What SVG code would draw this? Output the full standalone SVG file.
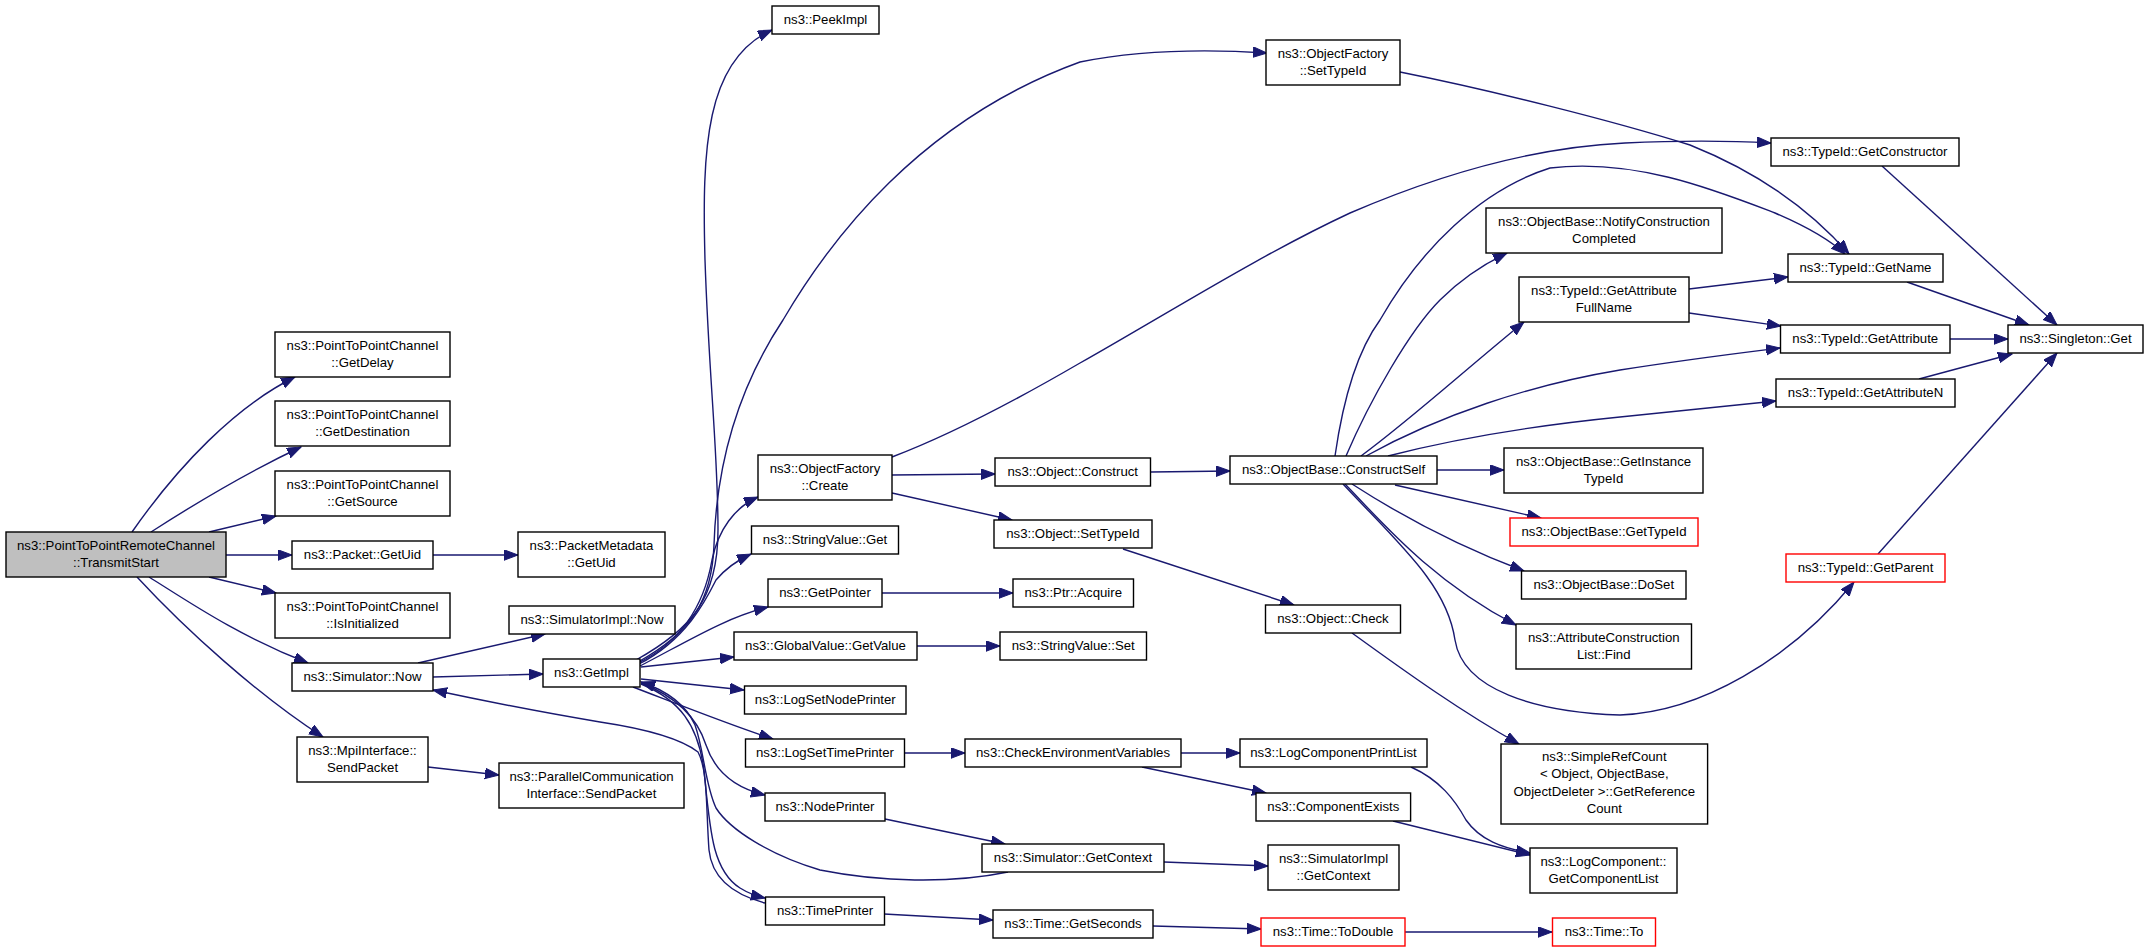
<svg xmlns="http://www.w3.org/2000/svg" width="2149" height="952" viewBox="0 0 2149 952">
<style>
.n rect{fill:#ffffff;stroke:#000000;stroke-width:1.4}
.n.main rect{fill:#bfbfbf}
.n.red rect{stroke:#ff0000}
.n text{font-family:"Liberation Sans",Arial,Helvetica,sans-serif;font-size:13.2px;text-anchor:middle;fill:#000000}
.e path{fill:none;stroke:#191970;stroke-width:1.4;marker-end:url(#ah)}
</style>
<defs>
<marker id="ah" markerUnits="userSpaceOnUse" viewBox="0 0 15 12" markerWidth="15" markerHeight="12" refX="14" refY="5.25" orient="auto">
<path d="M0,0 L14,5.25 L0,10.5 z" fill="#191970" stroke="#191970" stroke-width="1"/>
</marker>
</defs>
<rect x="0" y="0" width="2149" height="952" fill="#ffffff"/>
<g id="edges" class="e">
<path d="M132,532 C178,466 236,406 295,377"/>
<path d="M151,532 C196,503 248,472 301,447"/>
<path d="M209,532 L276,516"/>
<path d="M226,555 L292,555"/>
<path d="M209,577 L276,593"/>
<path d="M149,577 C186,600 238,636 308,663"/>
<path d="M137,577 C186,630 258,695 323,737"/>
<path d="M433,555 L518,555"/>
<path d="M418,663 L545,634"/>
<path d="M433,677 L543,674"/>
<path d="M428,767 L499,775"/>
<path d="M636,660 C690,630 718,600 718,530 C718,450 709,380 705,260 C702,150 705,60 772,30"/>
<path d="M638,662 C692,632 712,600 714,545 C716,480 730,400 783,320 C830,240 920,120 1080,62 C1150,48 1220,50 1267,53"/>
<path d="M638,663 C685,640 705,600 712,560 C718,530 735,507 758,497"/>
<path d="M639,664 C686,640 706,600 716,580 C726,568 738,560 751,554"/>
<path d="M640,666 C690,640 725,618 768,607"/>
<path d="M641,667 L734,657"/>
<path d="M641,679 L744,690"/>
<path d="M633,687 C680,705 730,725 773,739"/>
<path d="M641,683 C680,698 698,720 706,745 C715,772 735,788 765,795"/>
<path d="M641,684 C680,700 698,725 704,770 C710,830 712,870 740,888 C748,893 756,896 765,898"/>
<path d="M765,903 C735,895 712,880 709,850 C706,810 708,770 698,752 C680,738 640,728 600,722 C540,712 480,700 433,690"/>
<path d="M1008,872 C950,884 880,882 820,870 C770,855 730,830 716,808 C705,785 704,750 695,725 C685,703 665,690 641,682"/>
<path d="M892,457 C950,435 1025,395 1080,363 C1170,312 1260,255 1350,213 C1450,170 1540,147 1625,143 C1690,140 1735,141 1771,143"/>
<path d="M1400,72 C1490,90 1610,120 1690,145 C1765,175 1815,215 1849,254"/>
<path d="M1335,456 C1343,400 1358,350 1380,320 C1420,250 1480,190 1550,168 C1635,158 1715,190 1775,213 C1810,228 1830,240 1845,254"/>
<path d="M1346,456 C1370,400 1410,330 1440,300 C1460,280 1482,265 1507,253"/>
<path d="M1361,456 C1410,420 1465,370 1524,322"/>
<path d="M1366,456 C1440,415 1530,385 1620,370 C1690,359 1740,353 1780,348"/>
<path d="M1388,456 C1450,440 1530,426 1620,417 C1690,410 1740,405 1776,401"/>
<path d="M1437,470 L1504,470"/>
<path d="M1395,485 L1541,518"/>
<path d="M1352,484 C1400,515 1455,545 1524,571"/>
<path d="M1345,484 C1380,520 1430,580 1516,625"/>
<path d="M1343,484 C1400,545 1447,585 1455,640 C1463,690 1535,712 1620,715 C1700,712 1790,660 1854,582"/>
<path d="M1878,554 L2057,353"/>
<path d="M1950,339 L2008,339"/>
<path d="M1919,379 L2012,354"/>
<path d="M1907,282 L2029,325"/>
<path d="M1882,166 L2057,325"/>
<path d="M1689,289 L1788,277"/>
<path d="M1689,313 L1781,326"/>
<path d="M1151,472 L1230,471"/>
<path d="M892,475 L995,474"/>
<path d="M892,493 L1012,520"/>
<path d="M1123,549 L1294,605"/>
<path d="M1352,633 C1410,675 1462,712 1519,744"/>
<path d="M882,593 L1013,593"/>
<path d="M917,646 L1000,646"/>
<path d="M904,753 L965,753"/>
<path d="M1181,753 L1240,753"/>
<path d="M1142,767 L1266,793"/>
<path d="M1411,767 C1440,780 1455,800 1466,820 C1480,840 1502,848 1530,853"/>
<path d="M1393,821 L1530,855"/>
<path d="M885,819 L1005,844"/>
<path d="M1164,862 L1268,866"/>
<path d="M884,914 L993,920"/>
<path d="M1153,926 L1261,929"/>
<path d="M1405,932 L1552,932"/>
</g>
<g id="n_main" class="n main"><rect x="6" y="532" width="220" height="45"/><text x="116" y="550">ns3::PointToPointRemoteChannel</text><text x="116" y="567.3">::TransmitStart</text></g>
<g id="n_getdelay" class="n"><rect x="275" y="332" width="175" height="45"/><text x="362.5" y="350">ns3::PointToPointChannel</text><text x="362.5" y="367.3">::GetDelay</text></g>
<g id="n_getdestination" class="n"><rect x="275" y="401" width="175" height="45"/><text x="362.5" y="419">ns3::PointToPointChannel</text><text x="362.5" y="436.3">::GetDestination</text></g>
<g id="n_getsource" class="n"><rect x="275" y="471" width="175" height="45"/><text x="362.5" y="489">ns3::PointToPointChannel</text><text x="362.5" y="506.3">::GetSource</text></g>
<g id="n_packet_getuid" class="n"><rect x="292" y="541" width="141" height="28"/><text x="362.5" y="559.3">ns3::Packet::GetUid</text></g>
<g id="n_isinitialized" class="n"><rect x="275" y="593" width="175" height="45"/><text x="362.5" y="611">ns3::PointToPointChannel</text><text x="362.5" y="628.3">::IsInitialized</text></g>
<g id="n_sim_now" class="n"><rect x="292" y="663" width="141" height="28"/><text x="362.5" y="681.3">ns3::Simulator::Now</text></g>
<g id="n_mpi" class="n"><rect x="297" y="737" width="131" height="45"/><text x="362.5" y="755">ns3::MpiInterface::</text><text x="362.5" y="772.3">SendPacket</text></g>
<g id="n_pktmeta" class="n"><rect x="518" y="532" width="147" height="45"/><text x="591.5" y="550">ns3::PacketMetadata</text><text x="591.5" y="567.3">::GetUid</text></g>
<g id="n_simimpl_now" class="n"><rect x="509" y="606" width="166" height="28"/><text x="592" y="624.3">ns3::SimulatorImpl::Now</text></g>
<g id="n_parallel" class="n"><rect x="499" y="763" width="185" height="45"/><text x="591.5" y="781">ns3::ParallelCommunication</text><text x="591.5" y="798.3">Interface::SendPacket</text></g>
<g id="n_getimpl" class="n"><rect x="543" y="659" width="97" height="28"/><text x="591.5" y="677.3">ns3::GetImpl</text></g>
<g id="n_peekimpl" class="n"><rect x="772" y="6" width="107" height="28"/><text x="825.5" y="24.3">ns3::PeekImpl</text></g>
<g id="n_of_create" class="n"><rect x="758" y="455" width="134" height="45"/><text x="825" y="473">ns3::ObjectFactory</text><text x="825" y="490.3">::Create</text></g>
<g id="n_sv_get" class="n"><rect x="751.5" y="526" width="147" height="28"/><text x="825" y="544.3">ns3::StringValue::Get</text></g>
<g id="n_getpointer" class="n"><rect x="768" y="579" width="114" height="28"/><text x="825" y="597.3">ns3::GetPointer</text></g>
<g id="n_gv_getvalue" class="n"><rect x="734" y="632" width="183" height="28"/><text x="825.5" y="650.3">ns3::GlobalValue::GetValue</text></g>
<g id="n_logsetnode" class="n"><rect x="744.5" y="686" width="161.5" height="28"/><text x="825.25" y="704.3">ns3::LogSetNodePrinter</text></g>
<g id="n_logsettime" class="n"><rect x="745.5" y="739" width="159" height="28"/><text x="825" y="757.3">ns3::LogSetTimePrinter</text></g>
<g id="n_nodeprinter" class="n"><rect x="765" y="793" width="120" height="28"/><text x="825" y="811.3">ns3::NodePrinter</text></g>
<g id="n_timeprinter" class="n"><rect x="765.5" y="897" width="119" height="28"/><text x="825" y="915.3">ns3::TimePrinter</text></g>
<g id="n_of_settypeid" class="n"><rect x="1266" y="40" width="134" height="45"/><text x="1333" y="58">ns3::ObjectFactory</text><text x="1333" y="75.3">::SetTypeId</text></g>
<g id="n_obj_construct" class="n"><rect x="995" y="458" width="155.5" height="28"/><text x="1072.75" y="476.3">ns3::Object::Construct</text></g>
<g id="n_obj_settypeid" class="n"><rect x="994" y="520" width="158" height="28"/><text x="1073" y="538.3">ns3::Object::SetTypeId</text></g>
<g id="n_ptr_acquire" class="n"><rect x="1013" y="579" width="120.5" height="28"/><text x="1073.25" y="597.3">ns3::Ptr::Acquire</text></g>
<g id="n_sv_set" class="n"><rect x="1000" y="632" width="146.5" height="28"/><text x="1073.25" y="650.3">ns3::StringValue::Set</text></g>
<g id="n_checkenv" class="n"><rect x="965" y="739" width="216" height="28"/><text x="1073" y="757.3">ns3::CheckEnvironmentVariables</text></g>
<g id="n_sim_getcontext" class="n"><rect x="982" y="844" width="182" height="28"/><text x="1073" y="862.3">ns3::Simulator::GetContext</text></g>
<g id="n_time_getseconds" class="n"><rect x="993" y="910" width="160" height="28"/><text x="1073" y="928.3">ns3::Time::GetSeconds</text></g>
<g id="n_constructself" class="n"><rect x="1230" y="456" width="207" height="28"/><text x="1333.5" y="474.3">ns3::ObjectBase::ConstructSelf</text></g>
<g id="n_obj_check" class="n"><rect x="1265.5" y="605" width="135" height="28"/><text x="1333" y="623.3">ns3::Object::Check</text></g>
<g id="n_logcompprint" class="n"><rect x="1240" y="739" width="187" height="28"/><text x="1333.5" y="757.3">ns3::LogComponentPrintList</text></g>
<g id="n_compexists" class="n"><rect x="1256" y="793" width="154.6" height="28"/><text x="1333.3" y="811.3">ns3::ComponentExists</text></g>
<g id="n_simimpl_getcontext" class="n"><rect x="1268" y="845" width="131" height="45"/><text x="1333.5" y="863">ns3::SimulatorImpl</text><text x="1333.5" y="880.3">::GetContext</text></g>
<g id="n_time_todouble" class="n red"><rect x="1261" y="918" width="144" height="28"/><text x="1333" y="936.3">ns3::Time::ToDouble</text></g>
<g id="n_notify" class="n"><rect x="1486" y="208" width="236" height="45"/><text x="1604" y="226">ns3::ObjectBase::NotifyConstruction</text><text x="1604" y="243.3">Completed</text></g>
<g id="n_gafn" class="n"><rect x="1519" y="277" width="170" height="45"/><text x="1604" y="295">ns3::TypeId::GetAttribute</text><text x="1604" y="312.3">FullName</text></g>
<g id="n_getinstancetypeid" class="n"><rect x="1504" y="448" width="199" height="45"/><text x="1603.5" y="466">ns3::ObjectBase::GetInstance</text><text x="1603.5" y="483.3">TypeId</text></g>
<g id="n_ob_gettypeid" class="n red"><rect x="1510" y="518" width="188" height="28"/><text x="1604" y="536.3">ns3::ObjectBase::GetTypeId</text></g>
<g id="n_doset" class="n"><rect x="1521.5" y="571" width="164.5" height="28"/><text x="1603.75" y="589.3">ns3::ObjectBase::DoSet</text></g>
<g id="n_find" class="n"><rect x="1516" y="624" width="175.5" height="45"/><text x="1603.75" y="642">ns3::AttributeConstruction</text><text x="1603.75" y="659.3">List::Find</text></g>
<g id="n_simplerefcount" class="n"><rect x="1501" y="744" width="206.6" height="80"/><text x="1604.3" y="761">ns3::SimpleRefCount</text><text x="1604.3" y="778.3">&lt; Object, ObjectBase,</text><text x="1604.3" y="795.6">ObjectDeleter &gt;::GetReference</text><text x="1604.3" y="812.9">Count</text></g>
<g id="n_getcomplist" class="n"><rect x="1530" y="848" width="147" height="45"/><text x="1603.5" y="866">ns3::LogComponent::</text><text x="1603.5" y="883.3">GetComponentList</text></g>
<g id="n_time_to" class="n red"><rect x="1552.5" y="918" width="103" height="28"/><text x="1604" y="936.3">ns3::Time::To</text></g>
<g id="n_getconstructor" class="n"><rect x="1771" y="138" width="188" height="28"/><text x="1865" y="156.3">ns3::TypeId::GetConstructor</text></g>
<g id="n_getname" class="n"><rect x="1788" y="254" width="155" height="28"/><text x="1865.5" y="272.3">ns3::TypeId::GetName</text></g>
<g id="n_getattribute" class="n"><rect x="1780.5" y="325" width="169.5" height="28"/><text x="1865.25" y="343.3">ns3::TypeId::GetAttribute</text></g>
<g id="n_singleton" class="n"><rect x="2008" y="325" width="135" height="28"/><text x="2075.5" y="343.3">ns3::Singleton::Get</text></g>
<g id="n_getattributen" class="n"><rect x="1776" y="379" width="179" height="28"/><text x="1865.5" y="397.3">ns3::TypeId::GetAttributeN</text></g>
<g id="n_getparent" class="n red"><rect x="1786" y="554" width="159" height="28"/><text x="1865.5" y="572.3">ns3::TypeId::GetParent</text></g>
</svg>
